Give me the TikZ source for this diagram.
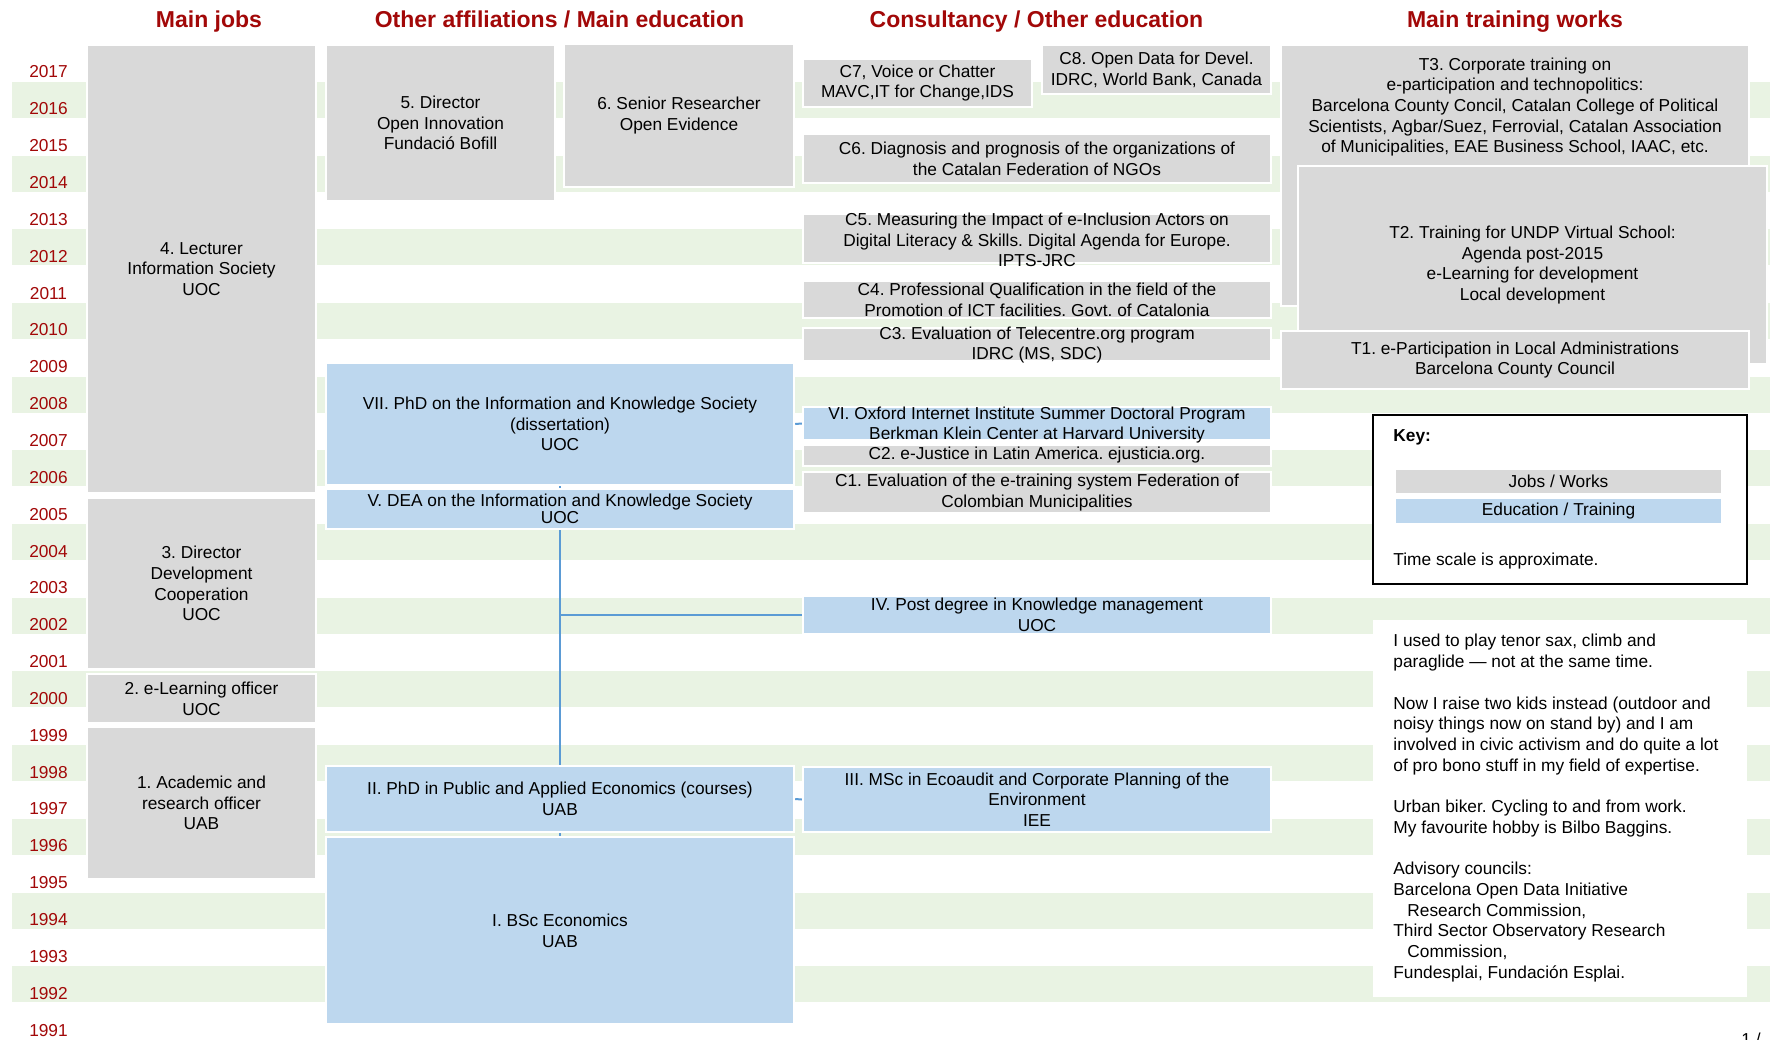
\documentclass[tikz,border=0pt]{standalone}
\usepackage{fontspec}
\setmainfont{Liberation Sans}
\usepackage{tikz}
\usetikzlibrary{positioning}
\frenchspacing

\definecolor{jobgray}{RGB}{217,217,217}
\definecolor{edublue}{RGB}{189,215,238}
\definecolor{linkblue}{RGB}{91,155,213}
\definecolor{headred}{RGB}{162,8,8}
\definecolor{stripegreen}{RGB}{233,243,227}

\newcommand{\boxfont}{\fontsize{8.65pt}{10.35pt}\selectfont}
\newcommand{\headfont}{\fontsize{11.5pt}{13pt}\selectfont\bfseries}

\begin{document}
\begin{tikzpicture}[x=0.5pt, y=-0.5pt,
    cell/.style n args={4}{minimum width={(#3-#1)*0.5pt}, minimum height={(#4-#2)*0.5pt}, at={({(#1+#3)/2},{(#2+#4)/2})}},
    jobbox/.style={rectangle, fill=jobgray, draw=white, line width=1.2pt, inner sep=0pt, align=center, font=\boxfont},
    edubox/.style={jobbox, fill=edublue},
    boxtext/.style={font=\boxfont, inner sep=0pt, align=center},
    plain/.style={font=\boxfont, inner sep=0pt, align=left},
    heading/.style={font=\headfont, text=headred, anchor=base},
    yearlbl/.style={font=\boxfont, text=headred},
    link/.style={draw=linkblue, line width=1pt}
]
\useasboundingbox[fill=white] (0,0) rectangle (1770,1039);

% Stripes every other year
\foreach \yr in {1992,1994,...,2016}
  \fill[stripegreen] (12,{45+(2017-\yr)*36.85}) rectangle (1770,{81+(2017-\yr)*36.85});

% Years
\foreach \yr in {1991,...,2017}
  \node[yearlbl] (y\yr) at (48.5,{72+(2017-\yr)*36.85}) {\yr};

% Column headings
\node[heading] (hjobs) at (209,27) {Main jobs};
\node[heading] (haff) at (559.5,27) {Other affiliations / Main education};
\node[heading] (hcons) at (1036.5,27) {Consultancy / Other education};
\node[heading] (htrain) at (1515,27) {Main training works};

% Main jobs
\node[jobbox, cell={87}{45}{316}{493}] (job4) {4. Lecturer\\Information Society\\UOC};
\node[jobbox, cell={87}{498}{316}{669}] (job3) {3. Director\\Development\\Cooperation\\UOC};
\node[jobbox, cell={87}{674}{316}{723}] (job2) {2. e-Learning officer\\UOC};
\node[jobbox, cell={87}{727}{316}{879}] (job1) {1. Academic and\\research officer\\UAB};

% Other affiliations / main education
\node[jobbox, cell={326}{45}{555}{201}] (aff5) {5. Director\\Open Innovation\\Fundació Bofill};
\node[jobbox, cell={564}{44}{794}{187}] (aff6) {6. Senior Researcher\\Open Evidence};
\node[edubox, cell={326}{363}{794}{485}] (eduVII) {VII. PhD on the Information and Knowledge Society\\(dissertation)\\UOC};
\node[edubox, cell={326}{489}{794}{529}] (eduV) {V. DEA on the Information and Knowledge Society\\[-1.85pt]UOC};
\node[edubox, cell={326}{766}{794}{832}] (eduII) {II. PhD in Public and Applied Economics (courses)\\UAB};
\node[edubox, cell={326}{837}{794}{1024}] (eduI) {I. BSc Economics\\UAB};

% Consultancy / other education
\node[jobbox, cell={1042}{45}{1271}{94}] (C8) {C8. Open Data for Devel.\\IDRC, World Bank, Canada};
\node[jobbox, cell={803}{59}{1032}{107}] (C7) {C7, Voice or Chatter\\MAVC,IT for Change,IDS};
\node[jobbox, cell={803}{134}{1271}{183}] (C6) {C6. Diagnosis and prognosis of the organizations of\\the Catalan Federation of NGOs};
\node[jobbox, cell={803}{214}{1271}{263}] (C5) {};
\node[boxtext] (C5txt) at (1037,240) {C5. Measuring the Impact of e-Inclusion Actors on\\Digital Literacy \& Skills. Digital Agenda for Europe.\\IPTS-JRC};
\node[jobbox, cell={803}{281}{1271}{318}] (C4) {C4. Professional Qualification in the field of the\\Promotion of ICT facilities. Govt. of Catalonia};
\node[jobbox, cell={803}{328}{1271}{361}] (C3) {};
\node[boxtext] (C3txt) at (1037,345) {C3. Evaluation of Telecentre.org program\\IDRC (MS, SDC)};
\node[edubox, cell={803}{407}{1271}{440}] (eduVI) {};
\node[boxtext] (eduVItxt) at (1037,425) {VI. Oxford Internet Institute Summer Doctoral Program\\Berkman Klein Center at Harvard University};
\node[jobbox, cell={803}{445}{1271}{466}] (C2) {C2. e-Justice in Latin America. ejusticia.org.};
\node[jobbox, cell={803}{472}{1271}{513}] (C1) {C1. Evaluation of the e-training system Federation of\\Colombian Municipalities};
\node[edubox, cell={803}{596}{1271}{634}] (eduIV) {IV. Post degree in Knowledge management\\UOC};
\node[edubox, cell={803}{767}{1271}{832}] (eduIII) {III. MSc in Ecoaudit and Corporate Planning of the\\Environment\\IEE};

% Main training works
\node[jobbox, cell={1281}{45}{1749}{306}] (T3) {};
\node[boxtext] (T3txt) at (1515,107) {T3. Corporate training on\\e-participation and technopolitics:\\Barcelona County Concil, Catalan College of Political\\Scientists, Agbar/Suez, Ferrovial, Catalan Association\\of Municipalities, EAE Business School, IAAC, etc.};
\node[jobbox, line width=1.4pt, cell={1298}{166}{1767}{364}] (T2) {T2. Training for UNDP Virtual School:\\Agenda post-2015\\e-Learning for development\\Local development};
\node[jobbox, line width=1.4pt, cell={1281}{331}{1749}{389}] (T1) {T1. e-Participation in Local Administrations\\Barcelona County Council};

% Connectors
\draw[link] (eduVII.east) -- (eduVI.west);
\draw[link] (eduII.east) -- (eduIII.west);
\draw[link] (eduVII.south) -- (eduV.north);
\draw[link] (eduV.south) -- (eduII.north);
\draw[link] (eduII.south) -- (eduI.north);
\draw[link] (eduIV.west) -- (eduIV.west -| eduV.south);

% Key
\node[draw=black, fill=white, line width=1pt, inner sep=0pt, cell={1373}{415}{1747}{584}] (key) {};
\node[plain, font=\boxfont\bfseries, anchor=west] (keyhead) at (1393,437) {Key:};
\node[jobbox, draw=none, cell={1396}{470}{1721}{493}] (keyjob) {Jobs / Works};
\node[edubox, draw=none, cell={1396}{499}{1721}{523}] (keyedu) {Education / Training};
\node[plain, anchor=west] (keynote) at (1393,561) {Time scale is approximate.};

% Notes
\node[fill=white, inner sep=0pt, cell={1373}{620}{1747}{997}] (notebox) {};
\node[plain, anchor=north west] (notes) at (1393,634) {I used to play tenor sax, climb and\\
paraglide — not at the same time.\\[10.35pt]
Now I raise two kids instead (outdoor and\\
noisy things now on stand by) and I am\\
involved in civic activism and do quite a lot\\
of pro bono stuff in my field of expertise.\\[10.35pt]
Urban biker. Cycling to and from work.\\
My favourite hobby is Bilbo Baggins.\\[10.35pt]
Advisory councils:\\
Barcelona Open Data Initiative\\
\hspace*{7pt}Research Commission,\\
Third Sector Observatory Research\\
\hspace*{7pt}Commission,\\
Fundesplai, Fundación Esplai.};

% Page number
\node[plain, anchor=north west] (page) at (1741,1033) {1 /};
\end{tikzpicture}
\end{document}
